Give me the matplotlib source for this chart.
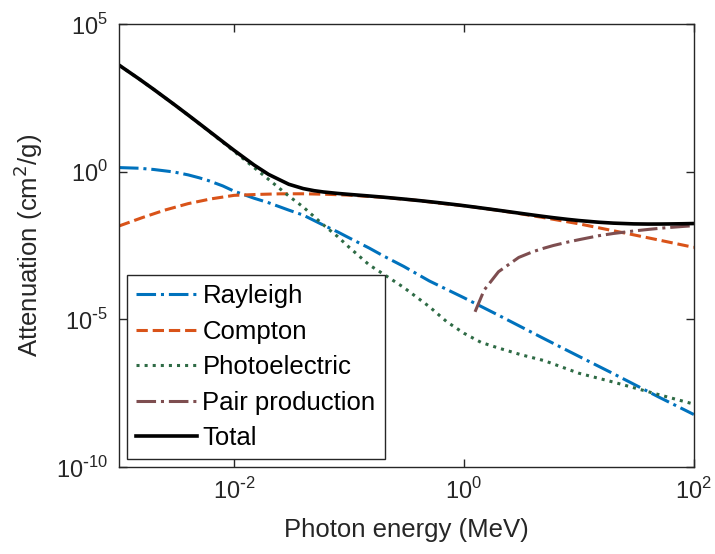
import matplotlib
matplotlib.use("Agg")
import matplotlib.pyplot as plt
import numpy as np

plt.rcParams['font.family'] = ['Liberation Sans', 'DejaVu Sans']
plt.rcParams['axes.unicode_minus'] = False

# photon energy (MeV) and mass attenuation (cm^2/g)
E_total = [0.001, 0.0015, 0.002, 0.003, 0.004, 0.005, 0.006, 0.008, 0.01, 0.015,
           0.02, 0.03, 0.04, 0.05, 0.06, 0.08, 0.1, 0.15, 0.2, 0.3, 0.4, 0.5,
           0.6, 0.8, 1.0, 1.25, 1.5, 2, 3, 4, 5, 6, 8, 10, 15, 20, 30, 40, 50,
           60, 80, 100]
total = [4078, 1376, 617.3, 192.9, 82.78, 42.58, 24.64, 10.37, 5.329, 1.673,
         0.8096, 0.3756, 0.2683, 0.2269, 0.2059, 0.1837, 0.1707, 0.1505, 0.137,
         0.1186, 0.1061, 0.09687, 0.08956, 0.07865, 0.07072, 0.06323, 0.05754,
         0.04942, 0.03969, 0.03403, 0.03031, 0.0277, 0.02429, 0.02219, 0.01941,
         0.01813, 0.0171, 0.01687, 0.01691, 0.01701, 0.01728, 0.01759]

E_ray = [0.001, 0.0015, 0.002, 0.003, 0.004, 0.005, 0.006, 0.008, 0.01, 0.015,
         0.02, 0.03, 0.04, 0.06, 0.08, 0.1, 0.15, 0.2, 0.3, 0.5, 1, 2, 5, 10,
         20, 50, 100]
rayleigh = [1.38, 1.31, 1.19, 0.98, 0.78, 0.62, 0.50, 0.33, 0.22, 0.126,
            0.089, 0.050, 0.034, 0.0155, 9.1e-3, 5.8e-3, 2.6e-3, 1.4e-3,
            6.2e-4, 2.0e-4, 5.4e-5, 1.38e-5, 2.2e-6, 5.6e-7, 1.44e-7, 2.3e-8,
            6.0e-9]

E_comp = [0.001, 0.0016, 0.0025, 0.004, 0.0063, 0.01, 0.016, 0.025, 0.04, 0.063,
          0.1, 0.2, 0.4, 0.63, 1, 2, 3, 5, 10, 20, 30, 50, 100]
compton = [0.0145, 0.028, 0.050, 0.083, 0.120, 0.158, 0.170, 0.178, 0.179, 0.172,
           0.161, 0.1353, 0.106, 0.085, 0.0707, 0.049, 0.0384, 0.0277, 0.0172,
           0.0100, 0.00727, 0.00483, 0.00274]

E_pe = [0.001, 0.0015, 0.002, 0.003, 0.004, 0.005, 0.006, 0.008, 0.01, 0.015,
        0.02, 0.03, 0.04, 0.06, 0.08, 0.1, 0.15, 0.2, 0.3, 0.5, 0.71, 1, 1.41,
        2, 3.16, 5, 10, 20, 50, 100]
photo = [4076, 1374, 616, 192, 82, 41.9, 24.1, 9.92, 4.94, 1.37, 0.55, 0.15,
         0.064, 0.0158, 6.3e-3, 2.8e-3, 7.0e-4, 3.4e-4, 1.2e-4, 2.7e-5, 8.3e-6,
         3.4e-6, 1.66e-6, 1.07e-6, 6.3e-7, 4.0e-7, 1.5e-7, 7.5e-8, 2.8e-8,
         1.35e-8]

E_pair = [1.25, 1.5, 2, 3, 4, 5, 6, 8, 10, 15, 20, 30, 40, 50, 60, 80, 100]
pair = [1.8e-5, 9.8e-5, 4.1e-4, 1.25e-3, 1.97e-3, 2.59e-3, 3.17e-3, 4.14e-3,
        4.98e-3, 6.83e-3, 8.1e-3, 9.83e-3, 1.109e-2, 1.208e-2, 1.284e-2,
        1.398e-2, 1.485e-2]

x_ticks = [1e-2, 1e0, 1e2]
x_ticklabels = ['10$^{\\mathregular{\\text{-}2}}$', '10$^{\\mathregular{0}}$',
                '10$^{\\mathregular{2}}$']
y_ticks = [1e-10, 1e-5, 1e0, 1e5]
y_ticklabels = ['10$^{\\mathregular{\\text{-}10}}$', '10$^{\\mathregular{\\text{-}5}}$',
                '10$^{\\mathregular{0}}$', '10$^{\\mathregular{5}}$']

fig = plt.figure(figsize=(7.15, 5.54), dpi=100)
ax = fig.add_axes([0.1664, 0.157, 0.804, 0.7996])

lw = 2.2
ax.loglog(E_ray, rayleigh, '-.', color='#0072BD', lw=lw, label='Rayleigh')
ax.loglog(E_comp, compton, '--', color='#D95319', lw=lw, label='Compton')
ax.loglog(E_pe, photo, ':', color='#2E6B45', lw=lw, label='Photoelectric')
ax.loglog(E_pair, pair, '-.', color='#7E4E50', lw=lw, label='Pair production')
ax.loglog(E_total, total, '-', color='k', lw=lw + 0.4, label='Total')

ax.set_xlim(1e-3, 1e2)
ax.set_ylim(1e-10, 1e5)
ax.set_xticks(x_ticks)
ax.set_xticklabels(x_ticklabels)
ax.set_yticks(y_ticks)
ax.set_yticklabels(y_ticklabels)
ax.minorticks_off()
ax.tick_params(which='both', direction='in', top=True, right=True,
               length=6, width=1, colors='#262626', labelsize=17, pad=8)
for s in ax.spines.values():
    s.set_color('#262626')
    s.set_linewidth(1)

ax.set_xlabel('Photon energy (MeV)', fontsize=18.5, color='#262626', labelpad=10)
ax.set_ylabel('Attenuation (cm$^2$/g)', fontsize=18.5, color='#262626', labelpad=8)

leg = ax.legend(loc='lower left', fontsize=18.5, fancybox=False, framealpha=1,
                edgecolor='#262626', handlelength=2.4, handletextpad=0.2,
                labelspacing=0.45, borderaxespad=0.3, borderpad=0.35)
leg.get_frame().set_linewidth(1)

fig.savefig('out.png', dpi=100)
